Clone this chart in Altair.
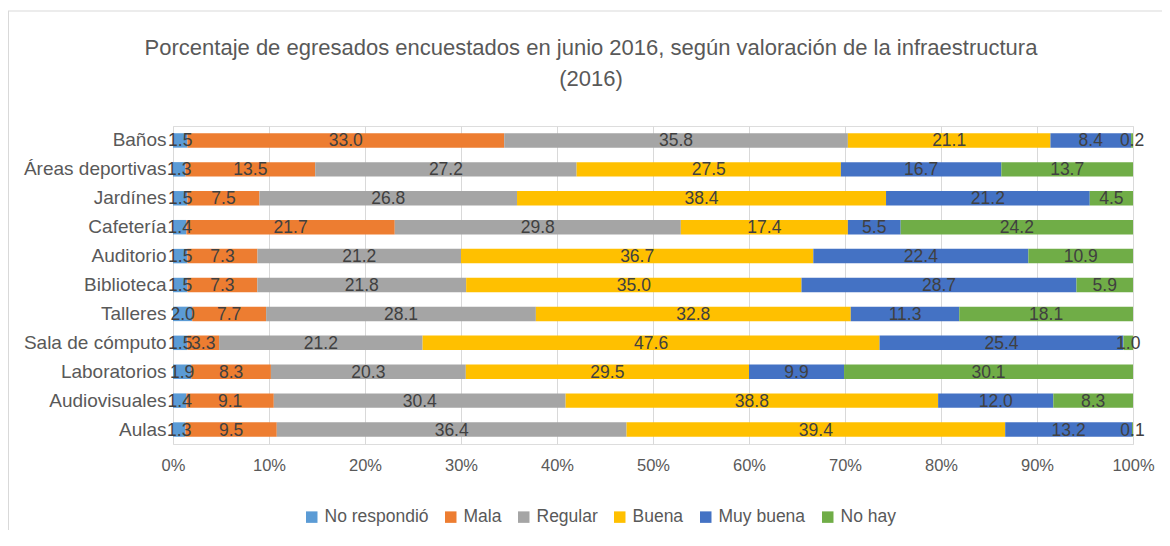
import altair as alt
import pandas as pd

categorias = ["Baños", "Áreas deportivas", "Jardínes", "Cafetería", "Auditorio",
              "Biblioteca", "Talleres", "Sala de cómputo", "Laboratorios",
              "Audiovisuales", "Aulas"]
series = ["No respondió", "Mala", "Regular", "Buena", "Muy buena", "No hay"]

no_respondio = [1.5, 1.3, 1.5, 1.4, 1.5, 1.5, 2.0, 1.5, 1.9, 1.4, 1.3]
mala = [33.0, 13.5, 7.5, 21.7, 7.3, 7.3, 7.7, 3.3, 8.3, 9.1, 9.5]
regular = [35.8, 27.2, 26.8, 29.8, 21.2, 21.8, 28.1, 21.2, 20.3, 30.4, 36.4]
buena = [21.1, 27.5, 38.4, 17.4, 36.7, 35.0, 32.8, 47.6, 29.5, 38.8, 39.4]
muy_buena = [8.4, 16.7, 21.2, 5.5, 22.4, 28.7, 11.3, 25.4, 9.9, 12.0, 13.2]
no_hay = [0.2, 13.7, 4.5, 24.2, 10.9, 5.9, 18.1, 1.0, 30.1, 8.3, 0.1]

colores = ["#5B9BD5", "#ED7D31", "#A5A5A5", "#FFC000", "#4472C4", "#70AD47"]
tick_values = [0, 0.1, 0.2, 0.3, 0.4, 0.5, 0.6, 0.7, 0.8, 0.9, 1.0]
titulo = ["Porcentaje de egresados encuestados en junio 2016, según valoración de la infraestructura",
          "(2016)"]

FONT = "Liberation Sans"
GRAY_TXT = "#595959"

valores = [no_respondio, mala, regular, buena, muy_buena, no_hay]
rows = []
for si, (s, vals) in enumerate(zip(series, valores)):
    for c, v in zip(categorias, vals):
        rows.append({"categoria": c, "serie": s, "valor": v, "orden": si})
df = pd.DataFrame(rows)

base = alt.Chart(df).transform_stack(
    stack="valor", groupby=["categoria"], as_=["v0", "v1"],
    offset="normalize", sort=[alt.SortField("orden")]
)

y_enc = alt.Y("categoria:N", sort=categorias,
              scale=alt.Scale(paddingInner=0.5, paddingOuter=0.25),
              axis=alt.Axis(title=None, ticks=False, domain=False, labelPadding=7,
                            labelFontSize=19, labelColor=GRAY_TXT, labelFont=FONT))

bars = base.mark_bar().encode(
    x=alt.X("v0:Q", scale=alt.Scale(domain=[0, 1]),
            axis=alt.Axis(title=None, values=tick_values, format=".0%", ticks=False,
                          domain=False, grid=True, gridColor="#D9D9D9",
                          labelFlush=False, labelOverlap=False,
                          labelPadding=13, labelFontSize=16.5, labelColor=GRAY_TXT,
                          labelFont=FONT)),
    x2="v1:Q",
    y=y_enc,
    color=alt.Color("serie:N", scale=alt.Scale(domain=series, range=colores),
                    legend=alt.Legend(title=None, orient="none", direction="horizontal",
                                      legendX=130, legendY=382, symbolType="square",
                                      symbolSize=132, symbolStrokeWidth=0,
                                      labelFontSize=17.5, labelColor=GRAY_TXT,
                                      labelFont=FONT, columnPadding=13, labelOffset=4)),
    order=alt.Order("orden:Q"),
)

labels = base.transform_calculate(mid="(datum.v0 + datum.v1) / 2").mark_text(
    font=FONT, fontSize=17.5, color="#404040", baseline="middle", dy=1
).encode(
    x=alt.X("mid:Q"),
    y=alt.Y("categoria:N", sort=categorias),
    text=alt.Text("valor:Q", format=".1f"),
)

borde = alt.Chart(alt.Data(values=[{"k": 1}])).mark_rule(color="#D9D9D9", strokeWidth=1)
borde_top = borde.encode(x=alt.value(-165), x2=alt.value(989), y=alt.value(-115))
borde_left = borde.encode(x=alt.value(-164.5), y=alt.value(-115), y2=alt.value(404))

chart = alt.layer(borde_top, borde_left, bars, labels).properties(
    width=960, height=318,
    autosize=alt.AutoSizeParams(type="none"),
    padding={"left": 165, "top": 118, "right": 29, "bottom": 94},
    title=alt.TitleParams(text=titulo, anchor="middle", frame="group", dx=-62,
                          fontSize=22, font=FONT, fontWeight="normal",
                          color=GRAY_TXT, lineHeight=31, offset=-80),
).configure_view(stroke=None).configure(background="white")

chart.save("out.html", embed_options={"renderer": "svg", "actions": False})
